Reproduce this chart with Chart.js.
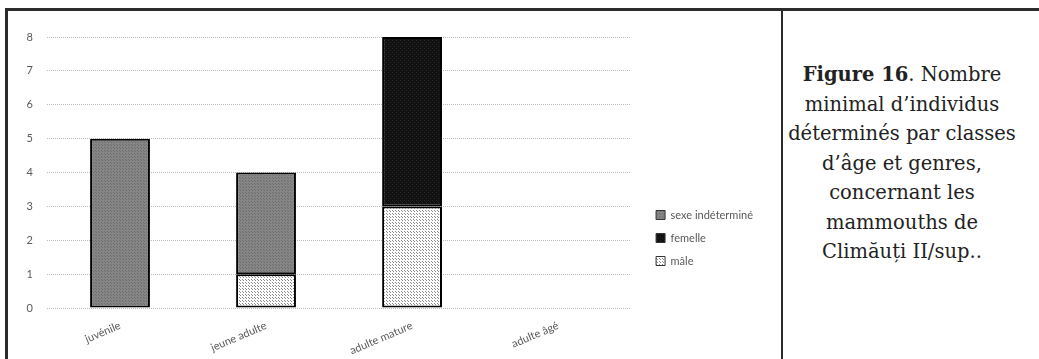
<!DOCTYPE html>
<html>
<head>
<meta charset="utf-8">
<script src="https://cdn.jsdelivr.net/npm/chart.js@4"></script>
<style>
  html, body { margin: 0; padding: 0; background: #fff; }
  #page { position: relative; width: 1039px; height: 359px; overflow: hidden; }
  .line { position: absolute; background: #2b2b2b; }
  #chart-box { position: absolute; left: 8px; top: 12px; width: 774px; height: 347px; }
  #caption {
    position: absolute; left: 783px; top: 60px; width: 238px;
    text-align: center; font-family: "DejaVu Serif", serif; font-size: 19.5px;
    line-height: 29.5px; color: #222; white-space: nowrap;
  }
</style>
</head>
<body>
<div id="page">
  <div class="line" style="left:5px; top:8px; width:1034px; height:3px;"></div>
  <div class="line" style="left:5px; top:8px; width:3px; height:351px;"></div>
  <div class="line" style="left:781px; top:8px; width:2px; height:351px;"></div>
  <div id="chart-box"><canvas id="chart"></canvas></div>
  <div id="caption"><b>Figure 16</b>. Nombre<br>minimal d’individus<br>déterminés par classes<br>d’âge et genres,<br>concernant les<br>mammouths de<br>Climăuți II/sup..</div>
</div>
<script>
// Data
const categories = ['juvénile', 'jeune adulte', 'adulte mature', 'adulte âgé'];
const maleValues = [0, 1, 3, 0];
const femaleValues = [0, 0, 5, 0];
const undeterminedValues = [5, 3, 0, 0];
const yTicks = [0, 1, 2, 3, 4, 5, 6, 7, 8];

// Small canvas patterns to imitate the printed textures
function makePattern(base, dot, step) {
  const c = document.createElement('canvas');
  c.width = step; c.height = step;
  const g = c.getContext('2d');
  g.fillStyle = base;
  g.fillRect(0, 0, step, step);
  g.fillStyle = dot;
  g.fillRect(0, 0, 1, 1);
  g.fillRect(Math.floor(step / 2), Math.floor(step / 2), 1, 1);
  return g.createPattern(c, 'repeat');
}

const grayFill = makePattern('#858585', '#6e6e6e', 3);
const blackFill = makePattern('#111111', '#2a2a2a', 4);
const dotFill = makePattern('#ffffff', '#8a8a8a', 3);

const barBorder = ctx => (ctx.raw ? 2 : 0);

// Move the legend to where it sits in the figure
const legendShift = {
  id: 'legendShift',
  afterLayout(chart) {
    const lg = chart.legend;
    if (lg) {
      lg.top += 40; lg.bottom += 40;
      lg.left += 13; lg.right += 13;
    }
  }
};

new Chart(document.getElementById('chart'), {
  type: 'bar',
  data: {
    labels: categories,
    datasets: [
      { label: 'mâle', data: maleValues, backgroundColor: dotFill, borderColor: '#000', borderWidth: barBorder, borderSkipped: false },
      { label: 'femelle', data: femaleValues, backgroundColor: blackFill, borderColor: '#000', borderWidth: barBorder, borderSkipped: false },
      { label: 'sexe indéterminé', data: undeterminedValues, backgroundColor: grayFill, borderColor: '#000', borderWidth: barBorder, borderSkipped: false }
    ]
  },
  options: {
    responsive: true,
    maintainAspectRatio: false,
    animation: false,
    categoryPercentage: 1,
    barPercentage: 0.41,
    layout: { padding: { top: 25, right: 32, bottom: 0, left: 0 } },
    plugins: {
      tooltip: { enabled: false },
      legend: {
        position: 'right',
        reverse: true,
        labels: {
          boxWidth: 9,
          boxHeight: 9,
          padding: 12,
          color: '#595959',
          font: { family: 'Lato, sans-serif', size: 11 },
          generateLabels(chart) {
            const items = Chart.defaults.plugins.legend.labels.generateLabels(chart);
            items.forEach(it => { it.lineWidth = 1; it.strokeStyle = '#333'; });
            return items;
          }
        }
      }
    },
    scales: {
      x: {
        stacked: true,
        grid: { display: false },
        border: { display: false },
        ticks: {
          minRotation: 23,
          maxRotation: 23,
          padding: 3,
          color: '#595959',
          font: { family: 'Lato, sans-serif', size: 11 }
        },
        afterFit(scale) { scale.height = 51; }
      },
      y: {
        stacked: true,
        min: 0,
        max: 8,
        afterBuildTicks(scale) { scale.ticks = yTicks.map(v => ({ value: v })); },
        border: { display: false, dash: [1, 1] },
        grid: { color: '#bcbcbc', drawTicks: false },
        ticks: {
          padding: 14,
          color: '#595959',
          font: { family: 'Lato, sans-serif', size: 11 }
        },
        afterFit(scale) { scale.width = 39; }
      }
    }
  },
  plugins: [legendShift]
});
</script>
</body>
</html>
